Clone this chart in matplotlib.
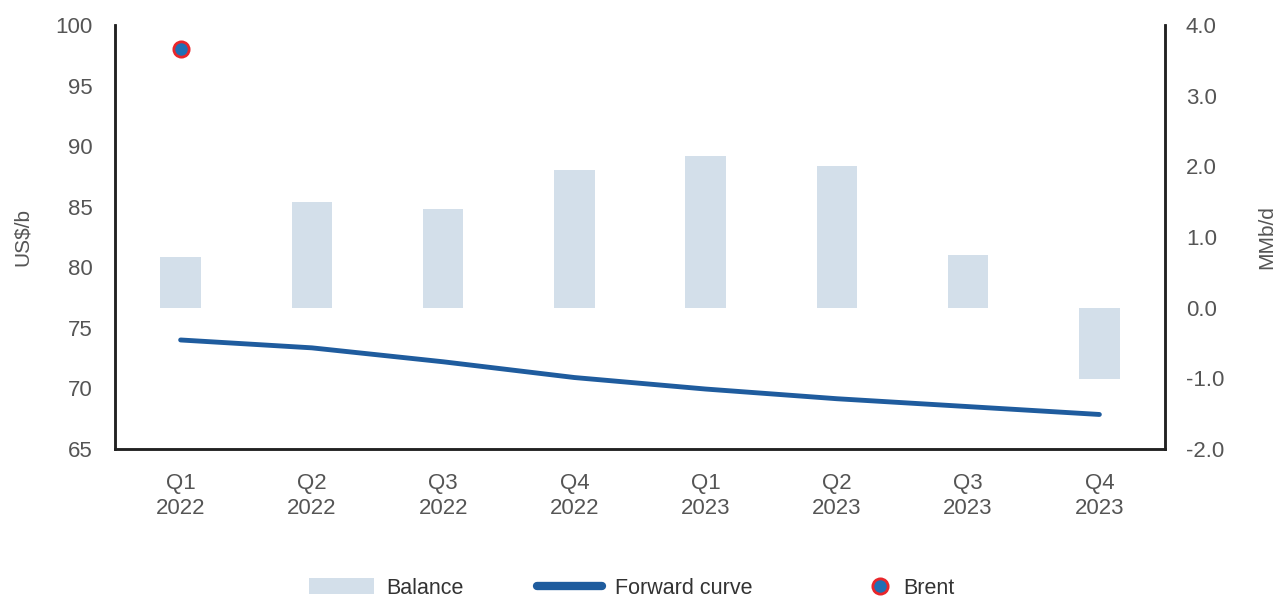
import matplotlib.pyplot as plt
import numpy as np
from matplotlib.lines import Line2D
from matplotlib.patches import Patch
from matplotlib.legend_handler import HandlerLine2D

quarters = ['Q1\n2022', 'Q2\n2022', 'Q3\n2022', 'Q4\n2022',
            'Q1\n2023', 'Q2\n2023', 'Q3\n2023', 'Q4\n2023']
balance = [0.72, 1.49, 1.40, 1.95, 2.15, 2.01, 0.75, -1.01]
forward_curve = [74.0, 73.35, 72.2, 70.9, 69.95, 69.15, 68.5, 67.85]
brent = [98.0]

plt.rcParams['font.family'] = ['Liberation Sans', 'DejaVu Sans']
txt = '#555555'
fs = 16


class RightMarker(HandlerLine2D):
    # put the legend dot near the text instead of mid-handle
    def get_xdata(self, legend, xdescent, ydescent, width, height, fontsize):
        xd = np.array([-xdescent + width - 14, -xdescent + width])
        return xd, xd[-1:] - 7


fig = plt.figure(figsize=(12.76, 5.98), dpi=100)
ax = fig.add_axes([115 / 1276, 1 - 449 / 598, 1050 / 1276, 424 / 598])
ax2 = ax.twinx()

x = np.arange(len(quarters))

# bars on right axis, line + dot on left axis
ax2.bar(x, balance, width=0.31, color='#d3dfea', zorder=1)
ax.set_zorder(ax2.get_zorder() + 1)
ax.patch.set_visible(False)
ax.plot(x, forward_curve, color='#1f5c9e', lw=3.5, solid_capstyle='round')
ax.plot(x[:len(brent)], brent, 'o', ms=11, mfc='#1f6fb5', mec='#e8262b', mew=2)

ax.set_xlim(-0.5, 7.5)
ax.set_ylim(65, 100)
ax.set_yticks(range(65, 101, 5))
ax2.set_ylim(-2, 4)
ax2.set_yticks(np.arange(-2, 4.1, 1))
ax2.set_yticklabels([f'{v:.1f}' for v in np.arange(-2, 4.1, 1)])
ax.set_xticks(x)
ax.set_xticklabels(quarters, linespacing=1.3)

for a in (ax, ax2):
    a.spines['top'].set_visible(False)
    for s in ('left', 'right', 'bottom'):
        a.spines[s].set_color('#222222')
        a.spines[s].set_linewidth(1.8)
    a.tick_params(length=0, labelsize=fs, labelcolor=txt)
ax.tick_params(axis='y', pad=16)
ax.tick_params(axis='x', pad=17)
ax2.tick_params(axis='y', pad=15)

ax.set_ylabel('US$/b', fontsize=15, color=txt)
ax.yaxis.set_label_coords(-0.079, 0.5)
ax2.set_ylabel('MMb/d', fontsize=15, color=txt)
ax2.yaxis.set_label_coords(1.088, 0.5)

brent_handle = Line2D([0], [0], marker='o', ls='none', ms=11, mfc='#1f6fb5',
                      mec='#e8262b', mew=2, label='Brent')
handles = [
    Patch(facecolor='#d3dfea', label='Balance'),
    Line2D([0], [0], color='#1f5c9e', lw=6, solid_capstyle='round', label='Forward curve'),
    brent_handle,
]
leg = fig.legend(handles=handles, loc='center', bbox_to_anchor=(0.495, 1 - 588 / 598), ncol=3,
                 frameon=False, fontsize=15.5, handlelength=3.0, columnspacing=3.4,
                 handletextpad=0.6, handler_map={brent_handle: RightMarker()})
for t in leg.get_texts():
    t.set_color('#333333')

fig.savefig('out.png', dpi=100)
